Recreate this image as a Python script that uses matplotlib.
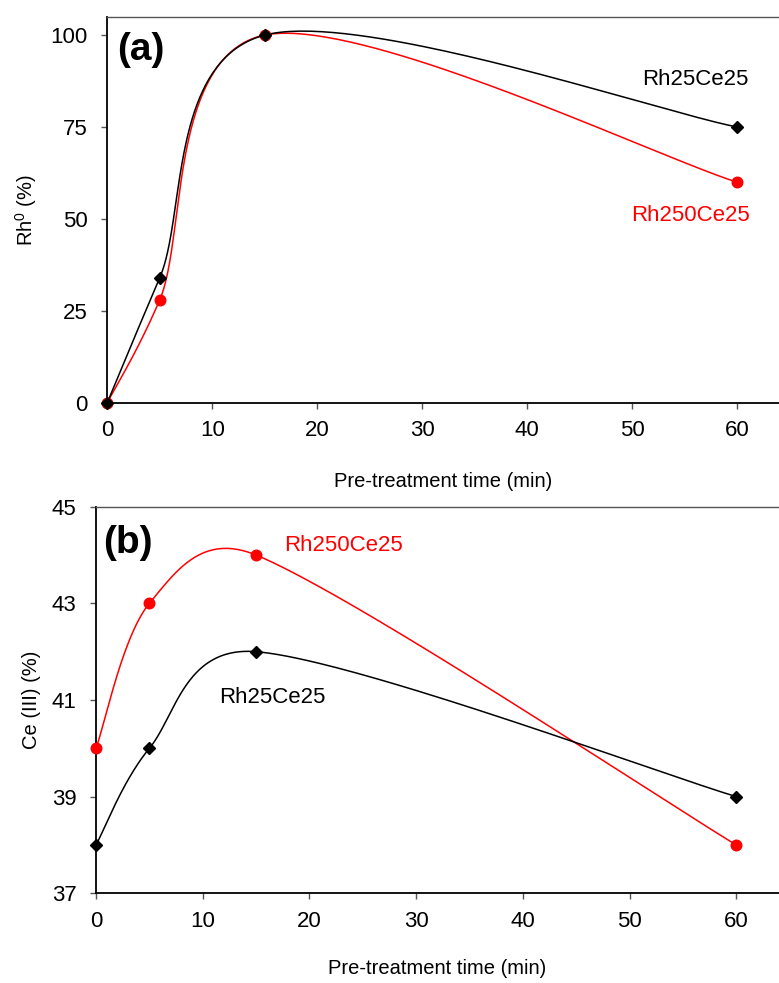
import numpy as np
import matplotlib
matplotlib.use("Agg")
import matplotlib.pyplot as plt

plt.rcParams['font.family'] = ['Liberation Sans', 'DejaVu Sans']
plt.rcParams['mathtext.fontset'] = 'custom'
plt.rcParams['mathtext.rm'] = 'Liberation Sans'
plt.rcParams['mathtext.it'] = 'Liberation Sans:italic'
plt.rcParams['mathtext.bf'] = 'Liberation Sans:bold'

# ---- data ----
time_min = [0, 5, 15, 60]
rh0_rh25ce25 = [0, 34, 100, 75]
rh0_rh250ce25 = [0, 28, 100, 60]
ce3_rh25ce25 = [38, 40, 42, 39]
ce3_rh250ce25 = [40, 43, 44, 38]
x_ticks = [0, 10, 20, 30, 40, 50, 60]
y_ticks_a = [0, 25, 50, 75, 100]
y_ticks_b = [37, 39, 41, 43, 45]

W, H = 779, 983
fig = plt.figure(figsize=(W / 100, H / 100), dpi=100)

ax_a = fig.add_axes([107.3 / W, (H - 402.7) / H, (W - 107.3) / W, 386.0 / H])
ax_b = fig.add_axes([96.0 / W, (H - 893.3) / H, (W - 96.0) / W, 386.6 / H])


def smooth(ax, xs, ys, n=80):
    """Excel-like smoothed line: Bezier with Catmull-Rom tangents (capped), in display space."""
    x0, x1 = ax.get_xlim()
    y0, y1 = ax.get_ylim()
    bb = ax.get_position()
    sx = bb.width * W / (x1 - x0)
    sy = bb.height * H / (y1 - y0)
    P = np.column_stack([(np.asarray(xs, float) - x0) * sx,
                         (np.asarray(ys, float) - y0) * sy])
    m = len(P)
    out = []
    for i in range(m - 1):
        pm = P[max(i - 1, 0)]
        p0 = P[i]
        p1 = P[i + 1]
        pp = P[min(i + 2, m - 1)]
        d12 = np.linalg.norm(p1 - p0)
        t0 = (p1 - pm) / 6.0
        t1 = (pp - p0) / 6.0
        n0 = np.linalg.norm(t0)
        n1 = np.linalg.norm(t1)
        if n0 > d12 / 2:
            t0 = t0 * (d12 / 2) / n0
        if n1 > d12 / 2:
            t1 = t1 * (d12 / 2) / n1
        c1 = p0 + t0
        c2 = p1 - t1
        t = np.linspace(0, 1, n)[:, None]
        seg = ((1 - t) ** 3) * p0 + 3 * t * (1 - t) ** 2 * c1 + 3 * t ** 2 * (1 - t) * c2 + t ** 3 * p1
        out.append(seg if i == 0 else seg[1:])
    C = np.vstack(out)
    return C[:, 0] / sx + x0, C[:, 1] / sy + y0


def style(ax, yticks, ylim, labelpad):
    ax.set_xlim(0, 64)
    ax.set_ylim(*ylim)
    ax.set_xticks(x_ticks)
    ax.set_yticks(yticks)
    ax.spines['right'].set_visible(False)
    ax.spines['top'].set_color('#555555')
    ax.spines['top'].set_linewidth(1.0)
    for s in ('left', 'bottom'):
        ax.spines[s].set_color('black')
        ax.spines[s].set_linewidth(1.3)
    ax.tick_params(axis='both', direction='out', length=4.5, width=1.0,
                   color='#555555', labelsize=16)
    ax.tick_params(axis='x', pad=8)
    ax.tick_params(axis='y', pad=9.5)
    ax.set_xlabel('Pre-treatment time (min)', fontsize=14.5, labelpad=labelpad)


style(ax_a, y_ticks_a, (0, 105), 22)
style(ax_b, y_ticks_b, (37, 45), 20)

# panel (a)
for ys, col, mk, ms in [(rh0_rh250ce25, 'red', 'o', 7.6), (rh0_rh25ce25, 'black', 'D', 6.0)]:
    sx_, sy_ = smooth(ax_a, time_min, ys)
    ax_a.plot(sx_, sy_, color=col, lw=1.1, clip_on=False, zorder=3)
    ax_a.plot(time_min, ys, ls='none', marker=mk, ms=ms, color=col, clip_on=False, zorder=4)

# panel (b)
for ys, col, mk, ms in [(ce3_rh250ce25, 'red', 'o', 7.6), (ce3_rh25ce25, 'black', 'D', 6.0)]:
    sx_, sy_ = smooth(ax_b, time_min, ys)
    ax_b.plot(sx_, sy_, color=col, lw=1.1, clip_on=False, zorder=3)
    ax_b.plot(time_min, ys, ls='none', marker=mk, ms=ms, color=col, clip_on=False, zorder=4)

ax_a.set_ylabel('Rh$^{0}$ (%)', fontsize=14.5, labelpad=8)
ax_b.set_ylabel('Ce (III) (%)', fontsize=14.5, labelpad=8)

ax_a.text(0.015, 0.915, '(a)', transform=ax_a.transAxes, fontsize=28,
          fontweight='bold', va='center', ha='left')
ax_b.text(0.011, 0.905, '(b)', transform=ax_b.transAxes, fontsize=28,
          fontweight='bold', va='center', ha='left')

ax_a.text(56.0, 87.9, 'Rh25Ce25', color='black', fontsize=16, ha='center', va='center')
ax_a.text(55.6, 50.8, 'Rh250Ce25', color='red', fontsize=16, ha='center', va='center')
ax_b.text(23.2, 44.19, 'Rh250Ce25', color='red', fontsize=16, ha='center', va='center')
ax_b.text(16.5, 41.06, 'Rh25Ce25', color='black', fontsize=16, ha='center', va='center')

fig.savefig('out.png', dpi=100)
